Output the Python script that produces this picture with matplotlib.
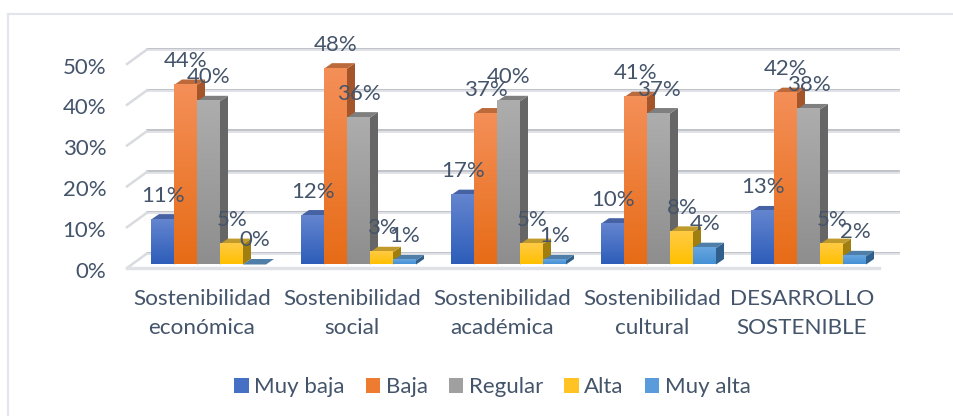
import numpy as np
import matplotlib
matplotlib.use("Agg")
import matplotlib.pyplot as plt
from matplotlib.colors import LinearSegmentedColormap
from matplotlib.lines import Line2D
from matplotlib.patches import Patch, Polygon
from matplotlib.transforms import Affine2D

categorias = ["Sostenibilidad\neconómica", "Sostenibilidad\nsocial", "Sostenibilidad\nacadémica",
              "Sostenibilidad\ncultural", "DESARROLLO\nSOSTENIBLE"]
series = ["Muy baja", "Baja", "Regular", "Alta", "Muy alta"]
muy_baja = [11, 12, 17, 10, 13]
baja = [44, 48, 37, 41, 42]
regular = [40, 36, 40, 37, 38]
alta = [5, 3, 5, 8, 5]
muy_alta = [0, 1, 1, 4, 2]
valores = [muy_baja, baja, regular, alta, muy_alta]
yticks = [0, 10, 20, 30, 40, 50]
ylabels = ["0%", "10%", "20%", "30%", "40%", "50%"]

# front, front bottom, side, top
colores = [("#6485CF", "#2D5DB9", "#2F4F8F", "#4662A3"),
           ("#F48F58", "#E76C17", "#A5552A", "#BC6A3C"),
           ("#ADADAD", "#8E8E8E", "#666666", "#7F7F7F"),
           ("#FFCB45", "#FFC000", "#A07F10", "#C19A2C"),
           ("#68A6E0", "#4590D6", "#2F5F8A", "#4F7EA8")]
colores_leyenda = ["#4570C4", "#EE7C30", "#A0A0A0", "#FFC423", "#5A9BDB"]

texto = "#44546A"
plt.rcParams["font.family"] = ["Lato", "DejaVu Sans"]

W, H = 954, 416
fig = plt.figure(figsize=(W / 100, H / 100), dpi=100)
borde = "#E2E5EB"
fig.add_artist(Line2D([8.5 / W, 8.5 / W], [0, (H - 14) / H], color=borde, lw=1.5))
fig.add_artist(Line2D([8.5 / W, 1], [(H - 14) / H, (H - 14) / H], color=borde, lw=1.5))

# front plane of the 3d box
ax = fig.add_axes([127 / W, (H - 268) / H, 752 / W, 204 / H])
ax.set_xlim(0, 752 / 150)
ax.set_ylim(0, 50)
ax.patch.set_visible(False)
for s in ax.spines.values():
    s.set_visible(False)
ax.set_yticks(yticks, ylabels, fontsize=16, color=texto)
ax.set_xticks([i + 0.5 for i in range(5)], categorias, fontsize=16.2, color=texto, linespacing=1.55)
ax.tick_params(length=0)
ax.tick_params(axis="y", pad=15)
ax.tick_params(axis="x", pad=15)
for lbl in ax.get_yticklabels():
    lbl.set_transform(lbl.get_transform() + Affine2D().translate(0, -1.5))


def px(dx, dy):
    return ax.transData + Affine2D().translate(dx, dy)


fondo = px(20, 14.5)
for y in yticks:
    ax.plot([0, 752 / 150], [y, y], color="#B4B7BD", lw=1.2, transform=fondo + Affine2D().translate(0, 0.8),
            clip_on=False, zorder=1)
    ax.plot([0, 752 / 150], [y, y], color="#E0E2E8", lw=1.4, transform=fondo + Affine2D().translate(0, -0.6),
            clip_on=False, zorder=1)
    # pared lateral
    p0 = ax.transData.transform((0, y))
    ax.plot([p0[0], p0[0] + 20], [p0[1], p0[1] + 14.5], color="#D9DBE0", lw=1.8,
            transform=None, clip_on=False, zorder=1)
ax.plot([0, 752 / 150], [0, 0], color="#DFE1E6", lw=2.4, clip_on=False, zorder=2)

ancho = 23 / 150
prof_x, prof_y = 8, 5.5
base = px(6.5, 3.5)
grad = np.linspace(0, 1, 64).reshape(-1, 1)
z = 3
for g in range(5):
    for k in range(5):
        v = valores[k][g]
        x0 = g + 0.5 + (k - 2.5) * ancho
        x1 = x0 + ancho
        c_sup, c_inf, c_lado, c_tapa = colores[k]
        a = base.transform((x0, 0))
        b = base.transform((x1, v))
        lado = [(b[0], a[1]), (b[0], b[1]), (b[0] + prof_x, b[1] + prof_y), (b[0] + prof_x, a[1] + prof_y)]
        tapa = [(a[0], b[1]), (b[0], b[1]), (b[0] + prof_x, b[1] + prof_y), (a[0] + prof_x, b[1] + prof_y)]
        ax.add_patch(Polygon(lado, fc=c_lado, ec="none", transform=None, clip_on=False, zorder=z))
        ax.add_patch(Polygon(tapa, fc=c_tapa, ec="none", transform=None, clip_on=False, zorder=z))
        z += 1
        cmap = LinearSegmentedColormap.from_list("c", [c_sup, c_inf])
        if v > 0:
            ax.imshow(grad, cmap=cmap, extent=(x0, x1, 0, v), aspect="auto", transform=base,
                      clip_on=False, zorder=z, interpolation="bilinear")
        z += 1
ax.set_xlim(0, 752 / 150)
ax.set_ylim(0, 50)

etiqueta = px(7, 27.5)
for g in range(5):
    for k in range(5):
        x0 = g + 0.5 + (k - 2) * ancho
        ax.text(x0, valores[k][g], f"{valores[k][g]}%", ha="center", va="center", fontsize=16, color=texto,
                transform=etiqueta, clip_on=False, zorder=200)

handles = [Patch(fc=colores_leyenda[k], label=series[k]) for k in range(5)]
fig.legend(handles=handles, loc="center", bbox_to_anchor=(492.5 / W, (H - 387) / H), ncol=5, frameon=False,
           fontsize=16, labelcolor=texto, handlelength=0.65, handleheight=0.65, handletextpad=0.25,
           columnspacing=0.95)
fig.savefig("out.png", dpi=100)
